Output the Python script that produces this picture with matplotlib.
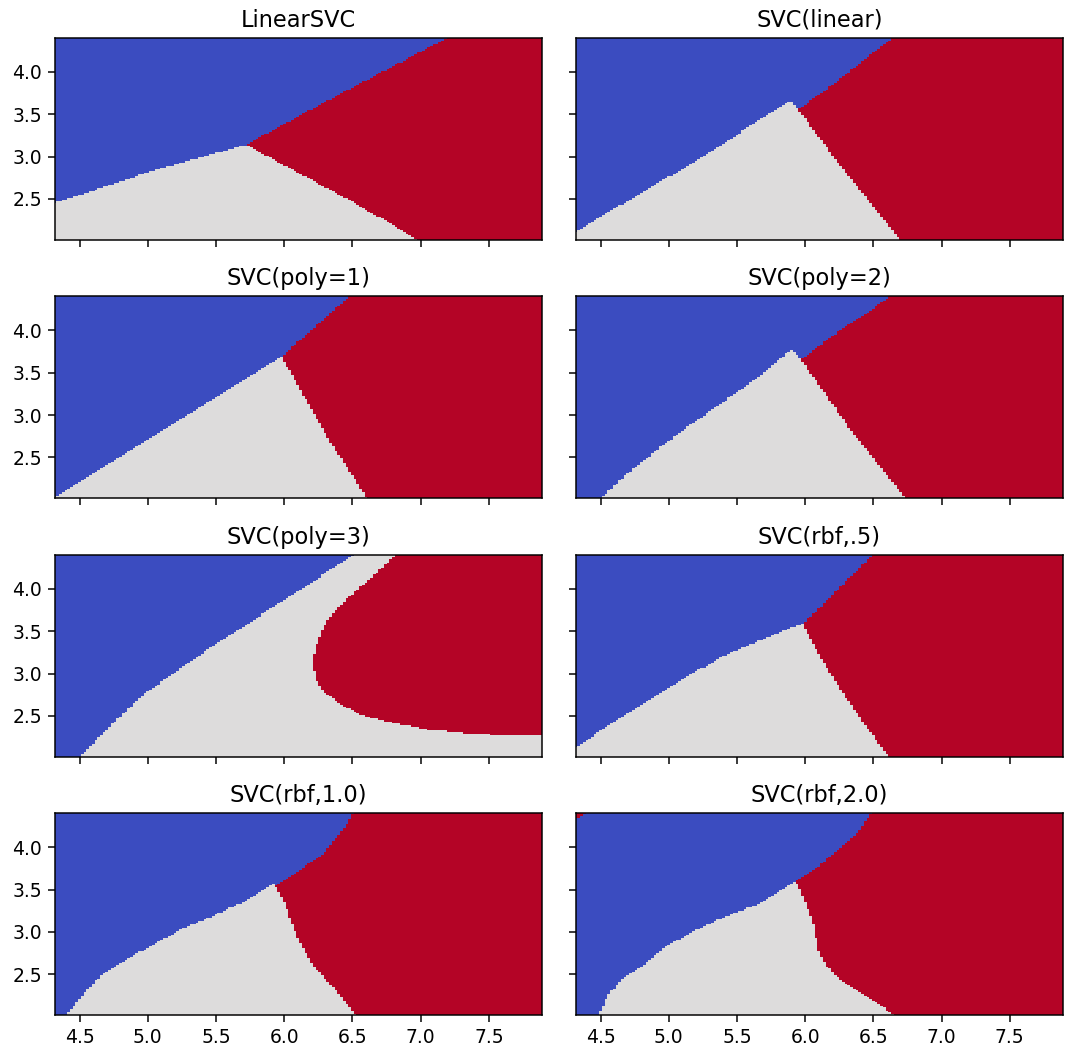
import numpy as np
import matplotlib
matplotlib.use("Agg")
import matplotlib.pyplot as plt

titles = ["LinearSVC", "SVC(linear)", "SVC(poly=1)", "SVC(poly=2)",
          "SVC(poly=3)", "SVC(rbf,.5)", "SVC(rbf,1.0)", "SVC(rbf,2.0)"]

# upper edge of the blue class (x, y)
lsvc_blue = [(4.30, 2.44), (5.09, 2.86), (5.72, 3.14), (6.27, 3.62), (7.18, 4.39), (8.0, 5.1)]
lin_blue = [(4.30, 2.10), (5.18, 2.93), (5.89, 3.66), (5.95, 3.56),
            (6.16, 3.80), (6.40, 4.10), (6.62, 4.38), (7.0, 4.9)]
poly1_blue = [(4.30, 2.00), (5.98, 3.69), (6.47, 4.39), (7.0, 5.15)]
poly2_blue = [(4.30, 1.70), (4.50, 2.02), (4.69, 2.30), (4.93, 2.61), (5.18, 2.91),
              (5.42, 3.18), (5.67, 3.46), (5.79, 3.63), (5.90, 3.78), (5.97, 3.65),
              (6.16, 3.89), (6.35, 4.11), (6.50, 4.26), (6.61, 4.39), (7.0, 4.8)]
poly3_blue = [(4.30, 1.80), (4.51, 2.03), (4.70, 2.34), (4.96, 2.74), (5.23, 3.05),
              (5.49, 3.34), (5.75, 3.60), (6.01, 3.89), (6.27, 4.15), (6.48, 4.38),
              (6.7, 4.6)]
rbf05_blue = [(4.30, 2.10), (4.45, 2.27), (4.69, 2.53), (4.93, 2.77), (5.18, 3.01),
              (5.42, 3.22), (5.67, 3.39), (5.91, 3.55), (5.98, 3.59), (6.11, 3.78),
              (6.28, 4.06), (6.40, 4.25), (6.49, 4.39), (6.7, 4.7)]
rbf10_blue = [(4.30, 1.80), (4.39, 2.00), (4.52, 2.26), (4.65, 2.47), (4.83, 2.67),
              (5.02, 2.83), (5.23, 3.02), (5.49, 3.20), (5.75, 3.39), (5.91, 3.57),
              (5.94, 3.55), (6.14, 3.76), (6.27, 3.90), (6.37, 4.10), (6.45, 4.24),
              (6.50, 4.39), (6.6, 4.6)]
rbf20_blue = [(4.30, 1.80), (4.49, 2.03), (4.55, 2.25), (4.65, 2.43), (4.80, 2.59),
              (4.99, 2.84), (5.17, 3.00), (5.41, 3.18), (5.66, 3.33), (5.78, 3.45),
              (5.92, 3.59), (5.95, 3.61), (6.10, 3.78), (6.23, 3.96), (6.35, 4.12),
              (6.42, 4.26), (6.48, 4.40), (6.6, 4.6)]

# left edge of the red class (x, y), going up in y
lsvc_red = [(7.00, 2.00), (6.53, 2.44), (6.01, 2.89), (5.72, 3.14), (5.72, 4.5)]
lin_red = [(6.71, 2.00), (6.40, 2.61), (6.16, 3.10), (5.95, 3.55), (5.95, 4.5)]
poly1_red = [(6.61, 2.00), (6.52, 2.24), (6.35, 2.65), (6.16, 3.18),
             (5.98, 3.69), (5.98, 4.5)]
poly2_red = [(6.75, 2.00), (6.55, 2.39), (6.35, 2.79), (6.16, 3.22),
             (5.97, 3.65), (5.97, 4.5)]
poly3_red = [(9.00, 2.25), (7.60, 2.27), (7.31, 2.30), (7.05, 2.34), (6.79, 2.42),
             (6.58, 2.50), (6.43, 2.62), (6.29, 2.78), (6.23, 2.93), (6.21, 3.13),
             (6.23, 3.32), (6.27, 3.48), (6.34, 3.68), (6.45, 3.87), (6.58, 4.05),
             (6.80, 4.38), (6.85, 4.45)]
rbf05_red = [(6.62, 2.00), (6.45, 2.37), (6.28, 2.76), (6.11, 3.20),
             (5.98, 3.59), (5.98, 4.5)]
rbf10_red = [(6.53, 2.00), (6.43, 2.22), (6.32, 2.41), (6.19, 2.65), (6.09, 2.96),
             (6.01, 3.31), (5.94, 3.52), (5.93, 4.5)]
rbf20_red = [(6.67, 2.00), (6.52, 2.17), (6.40, 2.29), (6.25, 2.45), (6.15, 2.61),
             (6.10, 2.76), (6.08, 2.92), (6.05, 3.16), (6.00, 3.35), (5.95, 3.55),
             (5.93, 3.60), (5.93, 4.5)]
# little red patch in the top left corner of the last panel
rbf20_corner = [(4.30, 4.33), (4.36, 4.37), (4.41, 4.41)]

blues = [lsvc_blue, lin_blue, poly1_blue, poly2_blue,
         poly3_blue, rbf05_blue, rbf10_blue, rbf20_blue]
reds = [lsvc_red, lin_red, poly1_red, poly2_red,
        poly3_red, rbf05_red, rbf10_red, rbf20_red]
corners = [None] * 7 + [rbf20_corner]

h = 0.02
xx, yy = np.meshgrid(np.arange(4.3, 7.9 + h, h), np.arange(2.0, 4.42, h))


def classify(blue, red, corner):
    bx, by = np.array(blue).T
    rx, ry = np.array(red).T
    Z = np.ones_like(xx)
    Z[xx > np.interp(yy, ry, rx)] = 2
    Z[yy > np.interp(xx, bx, by)] = 0
    if corner is not None:
        cx, cy = np.array(corner).T
        Z[yy > np.interp(xx, cx, cy, right=10.0)] = 2
    return Z


dpi = 135
fig, axes = plt.subplots(4, 2, sharex=True, sharey=True,
                         figsize=(1068 / dpi, 1053 / dpi), dpi=dpi)
fig.subplots_adjust(left=55 / 1068, right=1063 / 1068,
                    top=1 - 38 / 1053, bottom=1 - 1015 / 1053,
                    wspace=34 / 488, hspace=57 / 202)

for ax, title, blue, red, corner in zip(axes.flat, titles, blues, reds, corners):
    Z = classify(blue, red, corner)
    ax.pcolormesh(xx, yy, Z, cmap=plt.cm.coolwarm, vmin=0, vmax=2, shading="nearest")
    ax.set_title(title)

ax = axes[0, 0]
ax.set_xlim(4.32, 7.89)
ax.set_ylim(2.02, 4.40)
ax.set_xticks([4.5, 5.0, 5.5, 6.0, 6.5, 7.0, 7.5])
ax.set_yticks([2.5, 3.0, 3.5, 4.0])

fig.savefig("out.png", dpi=dpi)
